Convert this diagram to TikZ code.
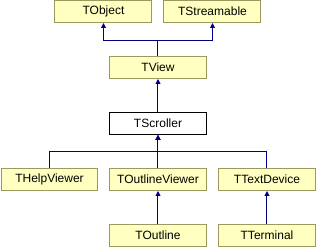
\documentclass[tikz,border=0pt]{standalone}
\usepackage{fontspec}
\setmainfont{Liberation Sans}
\usetikzlibrary{arrows.meta}
\definecolor{boxfill}{HTML}{FFFFC0}
\definecolor{boxline}{HTML}{9A9A60}
\definecolor{arrowblue}{HTML}{000080}
\begin{document}
\begin{tikzpicture}[x=1pt,y=-1pt,
  cls/.style={draw=boxline,fill=boxfill,line width=1pt,minimum width=97pt,minimum height=22pt,inner sep=0pt,font=\fontsize{12}{12}\selectfont},
  cur/.style={cls,draw=black,fill=white},
  inh/.style={draw=arrowblue,line width=1pt,-{Triangle[length=5pt,width=5pt]}}]
\useasboundingbox (0,0) rectangle (317,248);
\node[cls] (tobject) at (103.5,11.5) {TObject};
\node[cls] (tstream) at (212.5,11.5) {TStreamable};
\node[cls] (tview) at (158,67.5) {TView};
\node[cur] (tscroller) at (158,123.5) {TScroller};
\node[cls] (thelp) at (49.5,179.5) {THelpViewer};
\node[cls] (toutv) at (158,179.5) {TOutlineViewer};
\node[cls] (ttext) at (267,179.5) {TTextDevice};
\node[cls] (toutline) at (158,235.5) {TOutline};
\node[cls] (tterm) at (267,235.5) {TTerminal};
\coordinate (j1) at (158,40.5);
\coordinate (j2) at (158,152);
\draw[inh] (tview.north) -- (j1) -| (tobject.south);
\draw[inh] (tview.north) -- (j1) -| (tstream.south);
\draw[inh] (tscroller.north) -- (tview.south);
\draw[inh] (thelp.north) |- (j2) -- (tscroller.south);
\draw[inh] (ttext.north) |- (j2) -- (tscroller.south);
\draw[inh] (toutv.north) -- (tscroller.south);
\draw[inh] (toutline.north) -- (toutv.south);
\draw[inh] (tterm.north) -- (ttext.south);
\end{tikzpicture}
\end{document}
